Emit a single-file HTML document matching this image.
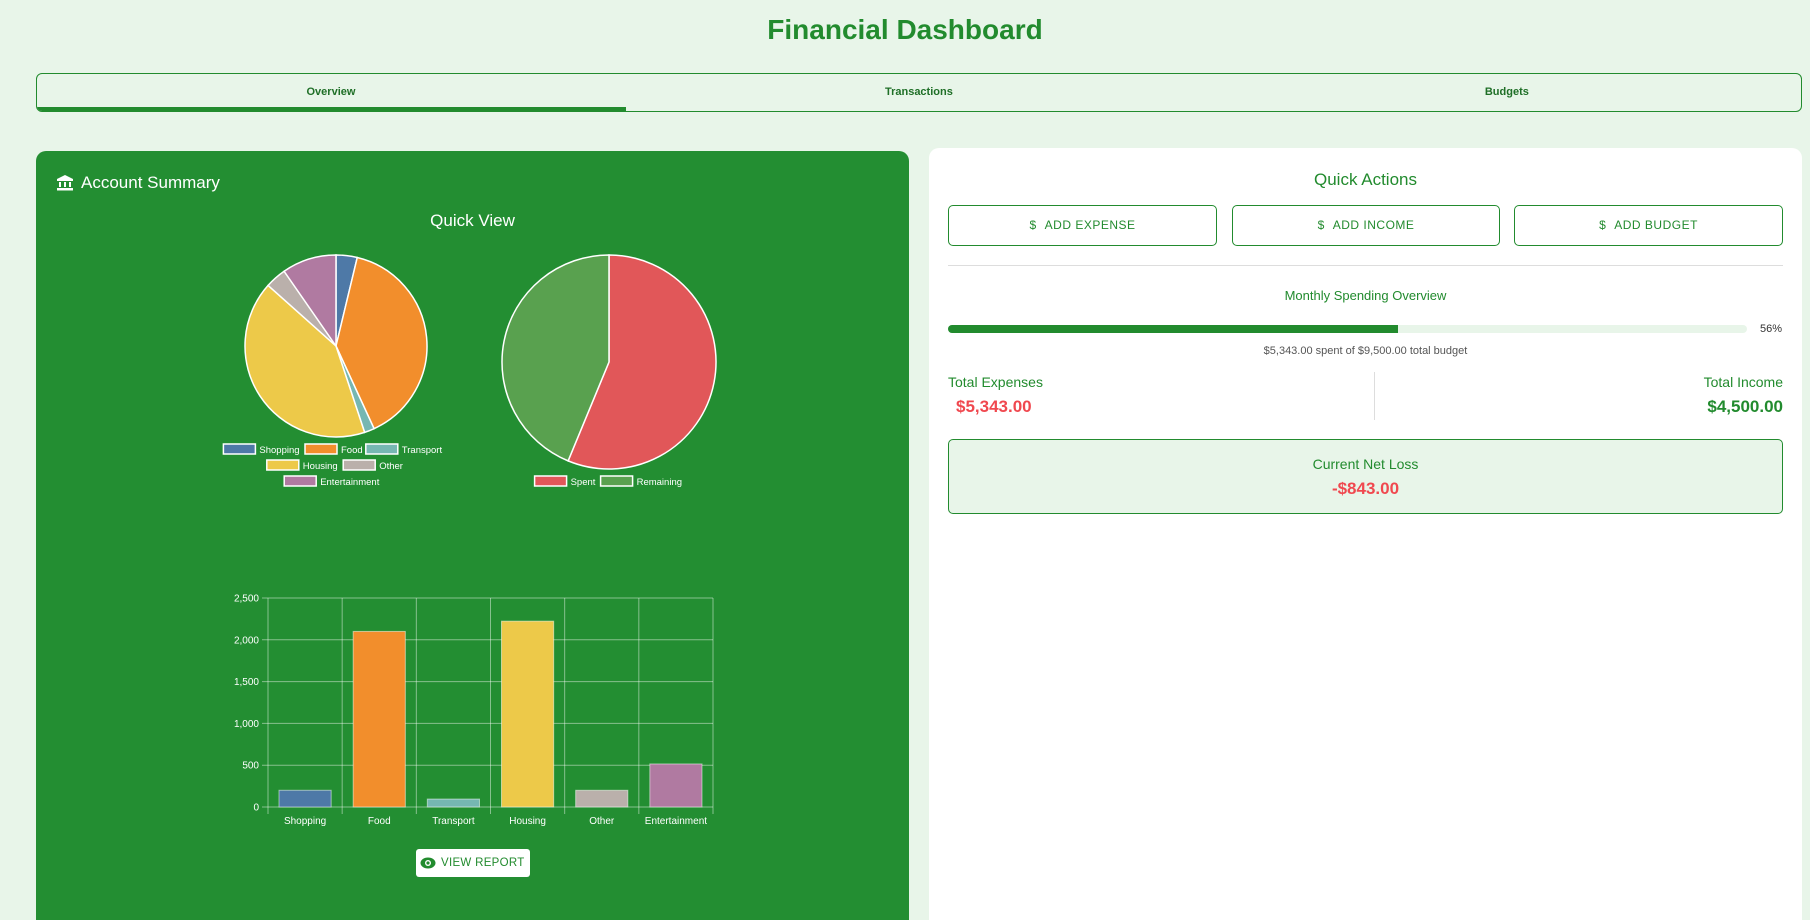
<!DOCTYPE html>
<html><head><meta charset="utf-8"><style>
*{box-sizing:border-box;margin:0;padding:0}
html,body{width:1810px;height:920px;overflow:hidden}
body{background:#e8f5e9;font-family:"Liberation Sans",sans-serif;position:relative}
.abs{position:absolute}
h1{position:absolute;left:0;width:1810px;top:14px;text-align:center;color:#228b2e;font-size:28px;font-weight:bold}
.tabs{left:36px;top:73px;width:1766px;height:39px;border:1px solid #228b2e;border-radius:6px;overflow:hidden}
.tab{position:absolute;top:0;height:37px;line-height:37px;width:33.33%;text-align:center;font-size:11px;font-weight:bold;color:#1f6f27}
.left{left:36px;top:151px;width:873px;height:769px;background:#238e32;border-radius:10px 10px 0 0}
.right{left:929px;top:148px;width:873px;height:772px;background:#fff;border-radius:10px 10px 0 0}
.btn{position:absolute;top:205px;height:41px;border:1px solid #228b2e;border-radius:5px;color:#228b2e;font-size:12px;letter-spacing:.5px;text-align:center;line-height:39px;white-space:nowrap}
.g{color:#228b2e}
</style></head><body>
<h1>Financial Dashboard</h1>
<div class="abs tabs">
 <div class="tab" style="left:0">Overview</div>
 <div class="tab" style="left:33.33%">Transactions</div>
 <div class="tab" style="left:66.66%">Budgets</div>
 <div class="abs" style="left:0;bottom:0;width:589px;height:4px;background:#228b2e"></div>
</div>
<div class="abs left"></div>
<svg class="abs" style="left:56px;top:175px" width="18" height="16" viewBox="0 0 18 16"><path d="M9 0 L17 4 L17 6 L1 6 L1 4 Z" fill="#fff"/><rect x="3" y="7" width="2" height="5" fill="#fff"/><rect x="8" y="7" width="2" height="5" fill="#fff"/><rect x="13" y="7" width="2" height="5" fill="#fff"/><rect x="1" y="13" width="16" height="2.5" fill="#fff"/></svg>
<div class="abs" style="left:81px;top:173px;color:#fff;font-size:17px">Account Summary</div>
<div class="abs" style="left:36px;width:873px;top:211px;text-align:center;color:#fff;font-size:17px">Quick View</div>
<svg id="charts" class="abs" style="left:0;top:0" width="910" height="920"></svg>
<div class="abs" style="left:416px;top:849px;width:114px;height:28px;background:#fff;border-radius:3px;color:#228b2e;font-size:11.5px;letter-spacing:.3px;line-height:28px;padding-left:25px;white-space:nowrap">
<svg class="abs" style="left:4px;top:8px" width="16" height="12" viewBox="0 0 16 12"><ellipse cx="8" cy="6" rx="7.5" ry="5.5" fill="#228b2e"/><circle cx="8" cy="6" r="3" fill="#fff"/><circle cx="8" cy="6" r="1.6" fill="#228b2e"/></svg>VIEW REPORT</div>

<div class="abs right"></div>
<div class="abs g" style="left:929px;width:873px;top:170px;text-align:center;font-size:17px">Quick Actions</div>
<div class="btn" style="left:948px;width:269px"><b style="font-weight:normal;margin-right:8px">$</b>ADD EXPENSE</div>
<div class="btn" style="left:1232px;width:268px"><b style="font-weight:normal;margin-right:8px">$</b>ADD INCOME</div>
<div class="btn" style="left:1514px;width:269px"><b style="font-weight:normal;margin-right:8px">$</b>ADD BUDGET</div>
<div class="abs" style="left:948px;top:265px;width:835px;height:1px;background:#ddd"></div>
<div class="abs g" style="left:929px;width:873px;top:288px;text-align:center;font-size:13px">Monthly Spending Overview</div>
<div class="abs" style="left:948px;top:325px;width:799px;height:8px;background:#e8f5e9;border-radius:4px"><div style="width:450px;height:8px;background:#228b2e;border-radius:4px 0 0 4px"></div></div>
<div class="abs" style="left:1760px;top:323px;font-size:11px;color:#333">56%</div>
<div class="abs" style="left:929px;width:873px;top:345px;text-align:center;font-size:11px;color:#555">$5,343.00 spent of $9,500.00 total budget</div>
<div class="abs g" style="left:948px;top:374px;font-size:14px">Total Expenses</div>
<div class="abs" style="left:956px;top:397px;font-size:17px;font-weight:bold;color:#f0484f">$5,343.00</div>
<div class="abs" style="left:1374px;top:372px;width:1px;height:48px;background:#ddd"></div>
<div class="abs g" style="right:27px;top:374px;font-size:14px">Total Income</div>
<div class="abs g" style="right:27px;top:397px;font-size:17px;font-weight:bold">$4,500.00</div>
<div class="abs" style="left:948px;top:439px;width:835px;height:75px;background:#e8f5e9;border:1px solid #228b2e;border-radius:5px;text-align:center">
<div class="g" style="margin-top:16px;font-size:14px">Current Net Loss</div>
<div style="margin-top:7px;font-size:17px;font-weight:bold;color:#f0484f">-$843.00</div></div>

<script>
const categories=["Shopping","Food","Transport","Housing","Other","Entertainment"];
const expenseValues=[200,2100,95,2223,200,515];
const budgetLabels=["Spent","Remaining"];
const budgetValues=[5343,4157];
const yTicks=[0,500,1000,1500,2000,2500];
const yTickLabels=["0","500","1,000","1,500","2,000","2,500"];
const catColors=["#4e79a7","#f28e2c","#76b7b2","#edc949","#bab0ab","#b07aa1"];
const budgetColors=["#e15759","#59a14f"];
const NS="http://www.w3.org/2000/svg";
const svg=document.getElementById('charts');
function mk(tag,attrs,parent){const e=document.createElementNS(NS,tag);for(const k in attrs)e.setAttribute(k,attrs[k]);(parent||svg).appendChild(e);return e;}
function pie(cx,cy,r,vals,cols,name){
 const tot=vals.reduce((a,b)=>a+b,0);let a=-Math.PI/2;
 vals.forEach((v,i)=>{const b=a+v/tot*2*Math.PI;const large=(b-a)>Math.PI?1:0;
  const p=mk('path',{d:`M${cx},${cy}L${cx+r*Math.cos(a)},${cy+r*Math.sin(a)}A${r},${r} 0 ${large} 1 ${cx+r*Math.cos(b)},${cy+r*Math.sin(b)}Z`,fill:cols[i],stroke:'#fff','stroke-width':1.5});
  
  
  a=b;});
}
pie(336,346,91,expenseValues,catColors,'expense');
pie(609,362,107,budgetValues,budgetColors,'budget');
function legend(items,y,cx,cols){
 const widths=items.map(t=>40+t.length*5.2);const total=widths.reduce((a,b)=>a+b,0)-4;let x=cx-total/2;
 items.forEach((t,i)=>{const idx=cols[1][i];
  const r=mk('rect',{x:x,y:y-5,width:32,height:10,fill:cols[0][idx],stroke:'#fff','stroke-width':1.5});
  
  
  const tx=mk('text',{x:x+36,y:y+4,fill:'#fff','font-size':9.5,'font-family':'Liberation Sans, sans-serif'});tx.textContent=t;
  
  
  x+=widths[i];});
}
legend(categories.slice(0,3),449,336,[catColors,[0,1,2]]);
legend(categories.slice(3,5),465,336,[catColors,[3,4]]);
legend(categories.slice(5),481,336,[catColors,[5]]);
legend(budgetLabels,481,609,[budgetColors,[0,1]]);
const X0=268,X1=713,Y0=807,Y1=598,maxV=2500;
const y=v=>Y0-(v/maxV)*(Y0-Y1);
const bw=(X1-X0)/categories.length;
yTicks.forEach((t,i)=>{mk('line',{x1:X0-6,x2:X1,y1:y(t),y2:y(t),stroke:'rgba(255,255,255,0.45)','stroke-width':1});
 const tx=mk('text',{x:X0-9,y:y(t)+3.5,fill:'#fff','font-size':10,'text-anchor':'end','font-family':'Liberation Sans, sans-serif'});tx.textContent=yTickLabels[i];
 
 });
for(let i=0;i<=categories.length;i++){mk('line',{x1:X0+i*bw,x2:X0+i*bw,y1:Y1,y2:Y0+7,stroke:'rgba(255,255,255,0.45)','stroke-width':1});}
categories.forEach((c,i)=>{const v=expenseValues[i];
 const r=mk('rect',{x:X0+i*bw+11,y:y(v),width:bw-22,height:Y0-y(v),fill:catColors[i],stroke:'rgba(255,255,255,0.5)','stroke-width':1});
 
 
 const tx=mk('text',{x:X0+i*bw+bw/2,y:824,fill:'#fff','font-size':10,'text-anchor':'middle','font-family':'Liberation Sans, sans-serif'});tx.textContent=c;
 
 });
</script>
</body></html>
